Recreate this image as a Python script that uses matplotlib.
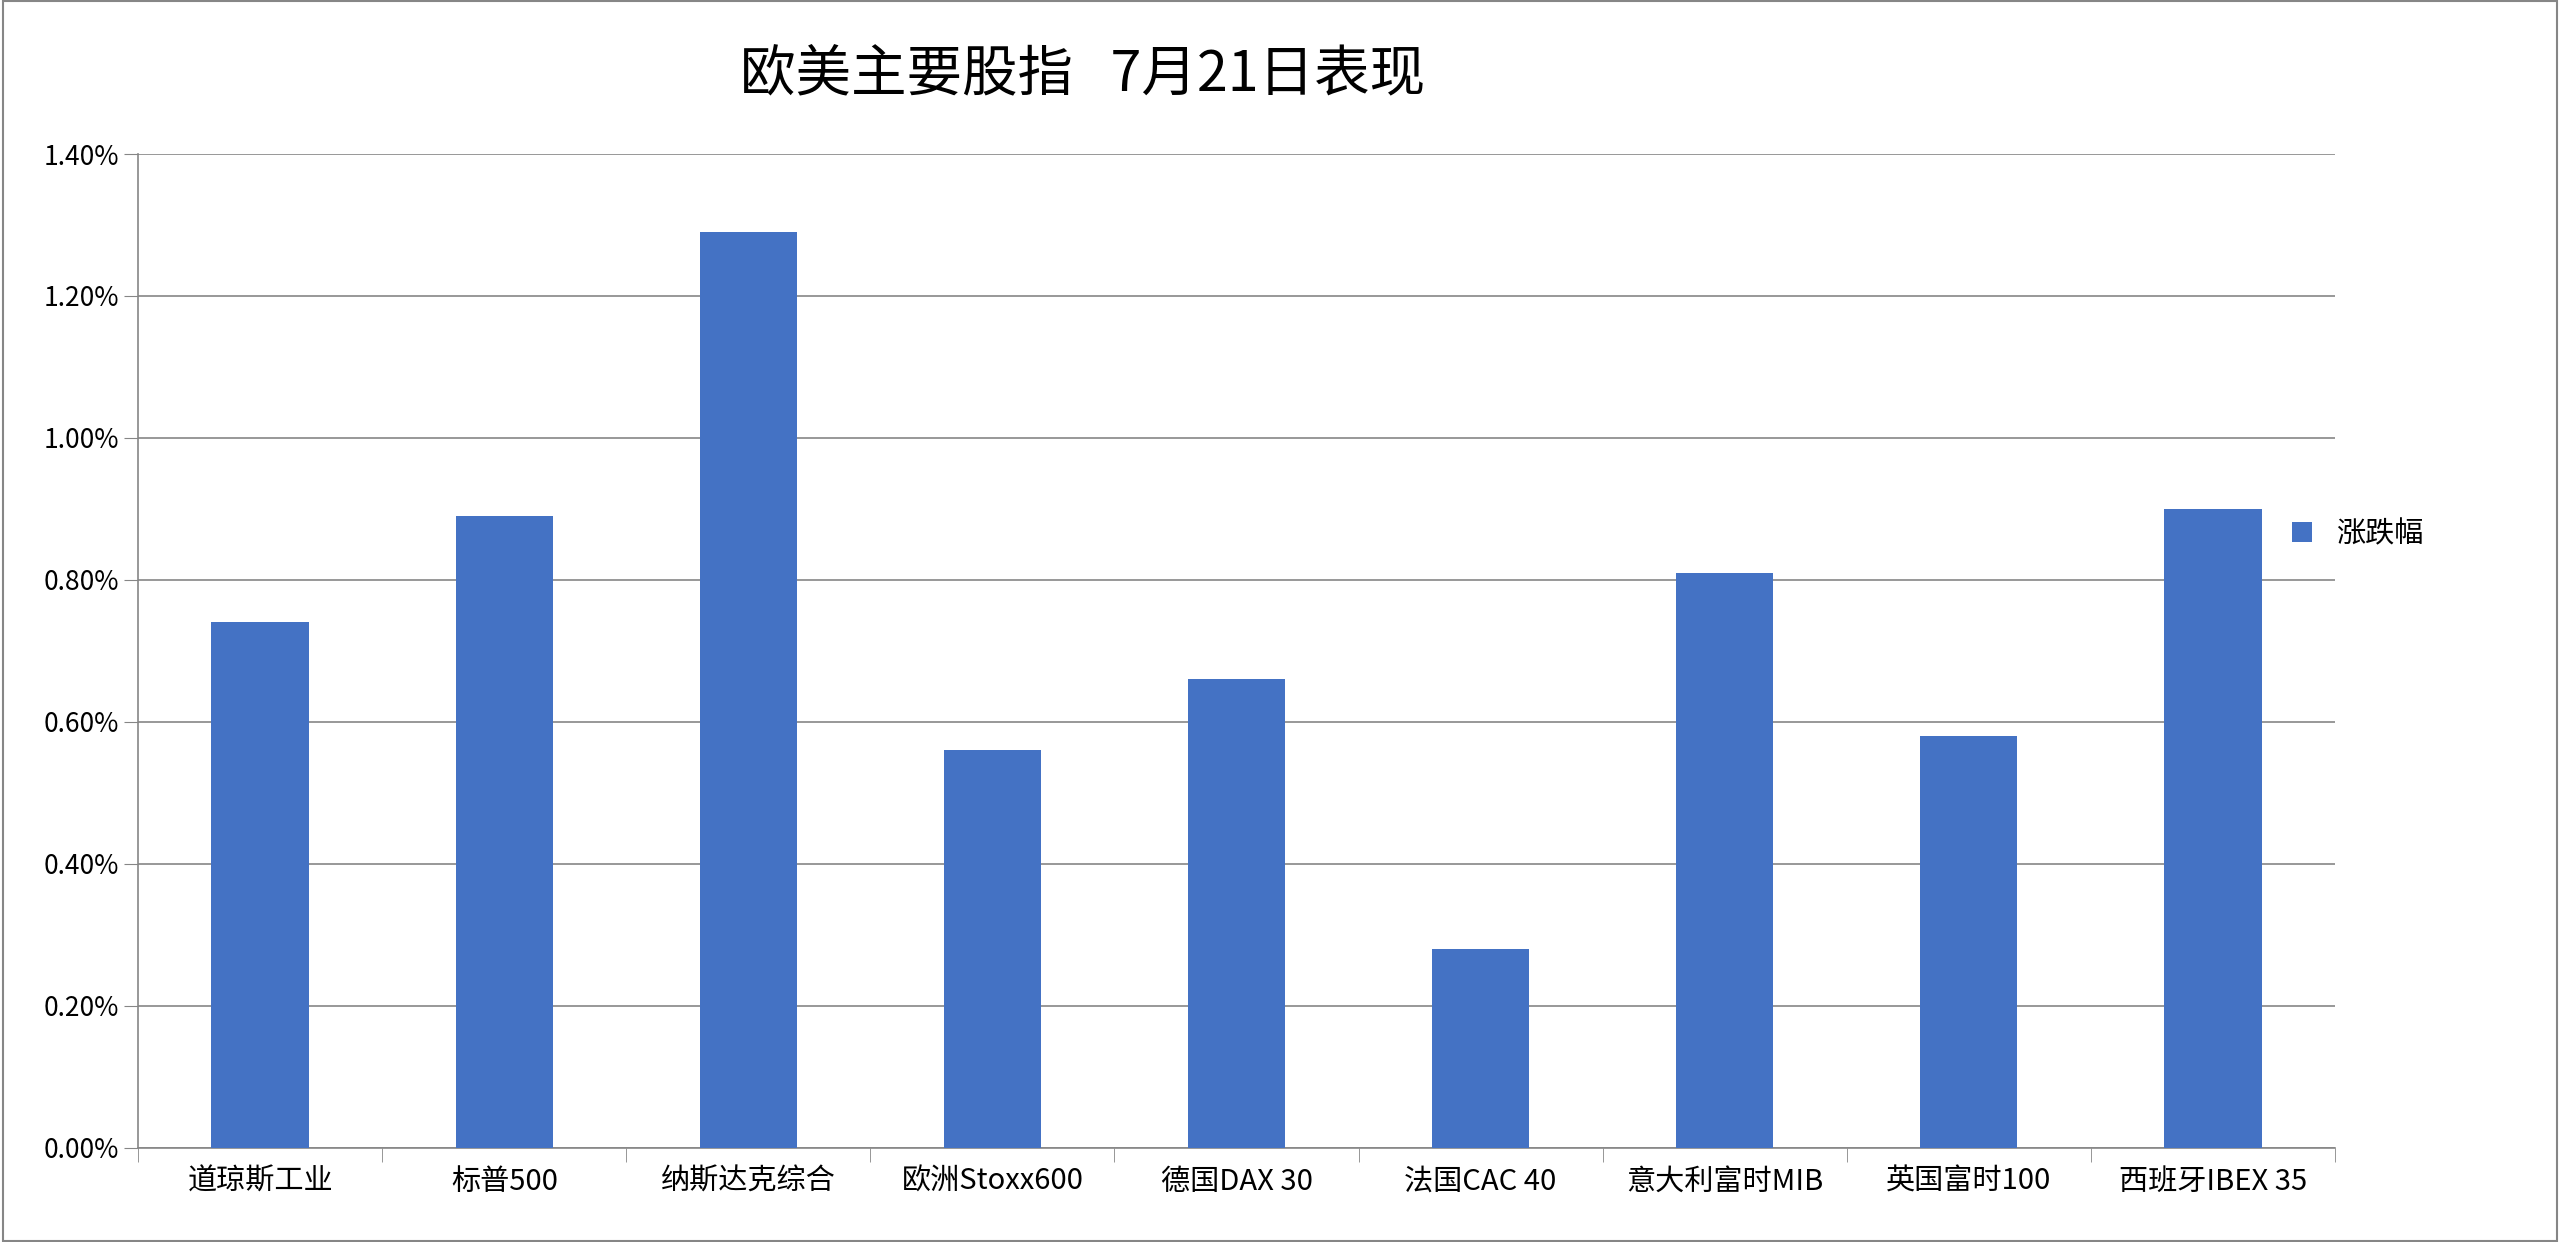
import matplotlib
matplotlib.use("Agg")
import matplotlib.pyplot as plt
from matplotlib.ticker import FuncFormatter, MultipleLocator
from matplotlib.patches import Rectangle

plt.rcParams['font.family'] = ['Noto Sans CJK SC', 'DejaVu Sans']

categories = ["道琼斯工业", "标普500", "纳斯达克综合", "欧洲Stoxx600", "德国DAX 30",
              "法国CAC 40", "意大利富时MIB", "英国富时100", "西班牙IBEX 35"]
values = [0.74, 0.89, 1.29, 0.56, 0.66, 0.28, 0.81, 0.58, 0.90]

fig = plt.figure(figsize=(25.6, 12.42), dpi=100)
ax = fig.add_axes([0.054, 0.076, 0.858, 0.800])
x = list(range(len(categories)))
ax.bar(x, values, width=0.4, color="#4472C4", label="涨跌幅", zorder=3)
ax.set_xlim(-0.5, len(categories) - 0.5)
ax.set_ylim(0, 1.4)
ax.yaxis.set_major_locator(MultipleLocator(0.2))
ax.yaxis.set_major_formatter(FuncFormatter(lambda v, p: f"{v:.2f}%"))
ax.grid(axis='y', color="#868686", linewidth=1.2, zorder=0)
ax.set_xticks(x)
ax.set_xticklabels(categories, fontsize=21)
ax.tick_params(axis='x', length=0, pad=14)
ax.set_xticks([i - 0.5 for i in range(len(categories) + 1)], minor=True)
ax.tick_params(axis='x', which='minor', length=10, color="#868686")
ax.tick_params(axis='y', labelsize=19, length=10, color="#868686")
for s in ['top', 'right']:
    ax.spines[s].set_visible(False)
for s in ['left', 'bottom']:
    ax.spines[s].set_color("#868686")
    ax.spines[s].set_linewidth(1.2)
fig.text(0.423, 0.94, "欧美主要股指   7月21日表现", fontsize=40, ha='center', va='center')
fig.legend(loc='center left', bbox_to_anchor=(0.885, 0.57), frameon=False, fontsize=21,
           handlelength=0.7, handleheight=0.7)
fig.patches.append(Rectangle((0.001, 0.001), 0.998, 0.998, transform=fig.transFigure,
                             fill=False, edgecolor="#868686", linewidth=1.5))
fig.savefig("out.png", dpi=100)
